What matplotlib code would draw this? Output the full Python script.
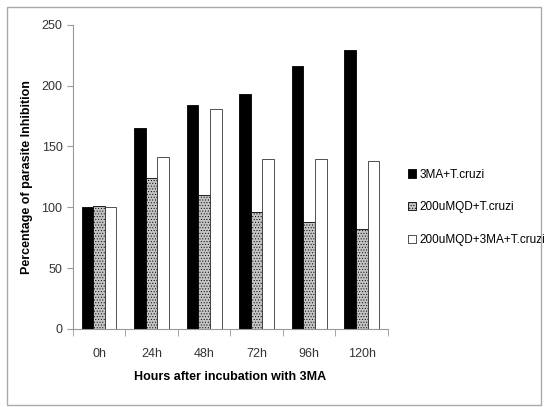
import numpy as np
import matplotlib
matplotlib.use("Agg")
from matplotlib import pyplot as plt
from matplotlib.patches import Rectangle

plt.rcParams['font.family'] = ['Liberation Sans', 'DejaVu Sans']
plt.rcParams['hatch.linewidth'] = 0.4
plt.rcParams['hatch.color'] = '#555555'

hours = ['0h', '24h', '48h', '72h', '96h', '120h']
ma_tcruzi = [100, 165, 184, 193, 216, 229]
mqd_tcruzi = [101, 124, 110, 96, 88, 82]
mqd_ma_tcruzi = [100, 141, 181, 140, 140, 138]

fig = plt.figure(figsize=(5.48, 4.07), dpi=100)
ax = fig.add_axes([0.133, 0.192, 0.575, 0.747])

x = np.arange(len(hours))
w = 0.22
ax.bar(x - w, ma_tcruzi, w, color='black', edgecolor='black', linewidth=0.6, label='3MA+T.cruzi')
ax.bar(x, mqd_tcruzi, w, color='#c4c4c4', edgecolor='black', linewidth=0.6, hatch='......', label='200uMQD+T.cruzi')
ax.bar(x + w, mqd_ma_tcruzi, w, color='white', edgecolor='#333333', linewidth=0.6, label='200uMQD+3MA+T.cruzi')

ax.set_xlim(-0.5, len(hours) - 0.5)
ax.set_ylim(0, 250)
ax.set_yticks([0, 50, 100, 150, 200, 250])
ax.set_xticks(x)
ax.set_xticklabels(hours)
ax.set_xticks(np.arange(-0.5, len(hours)), minor=True)
ax.tick_params(axis='x', which='major', length=0, pad=14, labelsize=9, colors='#333333')
ax.tick_params(axis='x', which='minor', length=5, color='#999999', direction='out')
ax.tick_params(axis='y', length=4, color='#999999', labelsize=9, colors='#333333')

for s in ['top', 'right']:
    ax.spines[s].set_visible(False)
for s in ['left', 'bottom']:
    ax.spines[s].set_color('#999999')
    ax.spines[s].set_linewidth(0.8)

ax.set_ylabel('Percentage of parasite Inhibition', fontweight='bold', fontsize=9, labelpad=6)
ax.set_xlabel('Hours after incubation with 3MA', fontweight='bold', fontsize=9, labelpad=8)

ax.legend(loc='center left', bbox_to_anchor=(1.03, 0.40), frameon=False, fontsize=8.5,
          handlelength=0.7, handleheight=0.7, handletextpad=0.3, labelspacing=1.75)

fig.patches.append(Rectangle((0.013, 0.005), 0.975, 0.978, transform=fig.transFigure,
                             fill=False, edgecolor='#aaaaaa', linewidth=1))

fig.savefig('out.png', dpi=100)
